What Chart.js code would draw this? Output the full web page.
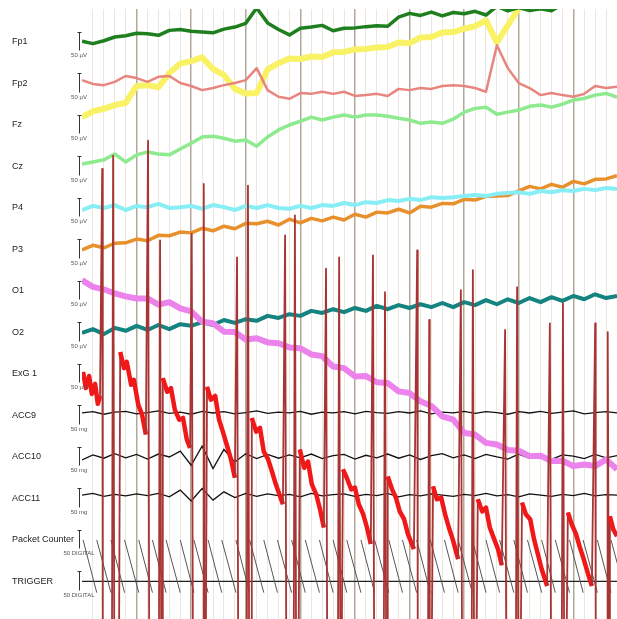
<!DOCTYPE html>
<html>
<head>
<meta charset="utf-8">
<script src="https://cdn.jsdelivr.net/npm/chart.js@4.4.1/dist/chart.umd.min.js"></script>
<style>
  html, body { margin: 0; padding: 0; background: #fff; }
  #wrap { width: 617px; height: 619px; }
</style>
</head>
<body>
<div id="wrap"><canvas id="eeg"></canvas></div>
<script>
// channel names + scale bar units
let channelNames = ["Fp1", "Fp2", "Fz", "Cz", "P4", "P3", "O1", "O2", "ExG 1", "ACC9", "ACC10", "ACC11", "Packet Counter", "TRIGGER"]
let scaleUnits = ["50 µV", "50 µV", "50 µV", "50 µV", "50 µV", "50 µV", "50 µV", "50 µV", "50 µV", "50 mg", "50 mg", "50 mg", "50 DIGITAL", "50 DIGITAL"]

// seconds
let eegTime = [0,0.2,0.4,0.6,0.8,1.0,1.2,1.4,1.6,1.8,2.0,2.2,2.4,2.6,2.8,3.0,3.2,3.4,3.6,3.8,4.0,4.2,4.4,4.6,4.8,5.0,5.2,5.4,5.6,5.8,6.0,6.2,6.4,6.6,6.8,7.0,7.2,7.4,7.6,7.8,8.0,8.2,8.4,8.6,8.8,9.0,9.2,9.4,9.6,9.8]

// µV
let fp1 = [2,-4,3,12,15,21,20,16,28,30,26,24,22,31,36,45,82,46,30,17,33,36,40,27,33,34,37,39,38,60,69,64,72,63,71,68,74,65,86,75,83,76,80,75,91,96,101,106,101,96]
let fp2 = [8,-1,-4,4,18,13,4,16,18,1,-6,-16,-11,-4,1,8,37,-16,-32,-37,-23,-25,-20,-25,-20,-30,-28,-25,-30,-13,-16,-11,-13,-6,-4,-6,-11,-20,92,37,1,-11,-28,-23,-28,-32,-25,-6,-11,-8]
let fz = [19,33,39,48,53,94,96,91,125,148,154,163,135,120,87,76,77,134,149,160,159,165,164,175,176,182,183,187,188,199,197,211,212,223,224,232,238,252,199,240,281,312,330,340,350,360,370,380,390,400]
let cz = [6,11,16,30,11,28,35,30,28,42,56,71,73,68,61,64,49,71,88,100,109,119,112,119,124,119,124,124,121,116,112,104,107,104,114,131,140,143,126,131,136,145,148,143,150,160,164,172,176,167]
let p4 = [-5,5,0,7,-5,5,2,10,0,2,5,-2,7,2,-5,5,0,7,0,-2,5,0,7,5,12,7,14,12,19,17,22,19,26,24,26,29,31,29,34,36,38,34,41,38,43,41,46,43,48,46]
let p3 = [-1,10,4,15,16,25,21,34,33,42,40,51,45,56,50,63,62,68,59,73,64,75,69,78,71,85,78,90,88,97,88,104,102,111,110,121,119,128,129,130,141,152,146,157,150,164,158,169,170,178]
let o1 = [26,10,4,-6,-13,-18,-18,-33,-27,-42,-49,-74,-78,-98,-99,-117,-114,-124,-126,-136,-138,-153,-157,-182,-186,-206,-205,-220,-222,-242,-246,-266,-277,-302,-310,-342,-346,-366,-370,-383,-385,-398,-397,-410,-409,-422,-418,-422,-406,-430]
let o2 = [-1,8,-4,11,4,16,6,18,8,20,16,25,18,30,23,32,28,40,35,44,40,52,47,56,49,59,52,64,56,66,59,68,61,71,61,73,66,78,68,80,71,83,73,85,76,88,80,92,83,88]

// ExG 1: decays + heartbeat spikes
let exgTime = [0.02,0.07,0.13,0.18,0.24,0.29,0.33,
  0.37,0.38,0.55,0.57,0.59,0.68,
  0.70,0.77,0.82,0.90,0.95,1.03,1.10,1.17,
  1.21,1.23,1.41,1.43,1.45,1.47,
  1.48,1.56,1.63,1.70,1.78,1.85,1.92,1.98,
  2.01,2.03,2.22,2.23,2.25,2.27,
  2.29,2.36,2.44,2.51,2.58,2.65,2.73,2.80,
  2.84,2.86,3.02,3.04,3.06,3.10,
  3.11,3.19,3.26,3.33,3.41,3.48,3.55,3.68,
  3.72,3.74,3.88,3.90,3.92,3.97,
  3.99,4.07,4.14,4.21,4.29,4.36,4.43,
  4.47,4.49,4.69,4.71,4.73,4.76,
  4.78,4.85,4.93,5.00,5.07,5.15,5.22,5.29,
  5.33,5.35,5.53,5.55,5.57,5.59,
  5.60,5.68,5.75,5.82,5.90,5.97,6.08,
  6.14,6.15,6.34,6.36,6.37,6.41,
  6.43,6.50,6.58,6.65,6.72,6.79,6.89,
  6.94,6.96,7.14,7.16,7.18,7.23,
  7.25,7.33,7.40,7.47,7.55,7.62,7.69,
  7.75,7.77,7.95,7.97,7.99,8.04,
  8.06,8.13,8.21,8.28,8.35,8.42,8.52,
  8.57,8.59,8.79,8.81,8.83,8.88,
  8.90,8.97,9.05,9.12,9.19,9.27,9.34,
  9.40,9.41,9.62,9.63,9.65,9.66,
  9.67,9.73,9.80]
let exgValue = [5,-34,-5,-48,-24,-72,-53,
  494,-602,-602,526,-602,-602,
  53,14,29,-26,-14,-74,-98,-146,
  562,-602,-602,322,-602,-602,
  -10,-43,-34,-86,-110,-106,-158,-178,
  338,-602,-602,458,-602,-602,
  -31,-62,-53,-110,-139,-170,-206,-250,
  281,-602,-602,454,-602,-602,
  -106,-139,-130,-187,-206,-235,-266,-314,
  334,-602,-602,382,-602,-602,
  -182,-226,-211,-266,-290,-326,-370,
  254,-602,-602,281,-602,-602,
  -230,-250,-278,-274,-314,-338,-370,-410,
  286,-602,-602,197,-602,-602,
  -247,-278,-298,-331,-350,-386,-422,
  298,-602,-602,130,-602,-602,
  -271,-302,-298,-338,-370,-398,-446,
  202,-602,-602,250,-602,-602,
  -302,-331,-322,-370,-398,-422,-461,
  106,-602,-602,209,-602,-602,
  -310,-338,-350,-398,-434,-470,-511,
  122,-602,-602,170,-602,-602,
  -334,-362,-386,-418,-446,-482,-511,
  122,-602,-602,101,-602,-602,
  -343,-374,-391]

// mg
let acc9 = [6,9,3,8,10,4,7,11,5,8,3,10,6,9,4,7,11,5,8,6,10,3,8,6,9,4,10,7,5,9,6,11,4,8,6,10,5,9,7,3,9,6,10,5,8,11,4,7,9,6]
let acc10 = [-7,5,-3,8,-2,6,-5,7,0,14,-20,26,-28,18,-12,8,-4,6,-3,5,-2,7,-4,3,6,-5,4,-2,7,-3,5,-6,3,8,-2,5,-4,6,0,-5,7,-3,4,-6,5,2,-4,6,-2,3]
let acc11 = [8,12,5,10,6,11,7,12,4,20,-6,24,-4,16,2,12,5,11,7,10,4,12,6,9,11,5,10,7,12,4,9,6,11,8,5,10,7,12,6,9,4,11,8,5,10,7,12,6,9,8]

// packet counter wraps (s), counts 127 -> 0
let packetTops = [0.02,0.27,0.53,0.78,1.04,1.29,1.54,1.80,2.05,2.31,2.56,2.82,3.07,3.33,3.58,3.84,4.09,4.35,4.60,4.85,5.11,5.36,5.62,5.87,6.13,6.38,6.64,6.89,7.15,7.40,7.65,7.91,8.16,8.42,8.67,8.93,9.18,9.44,9.69,9.95]
let packetMax = 127
let packetMin = 0

let triggerTime = [0, 9.8]
let triggerValue = [0, 0]

// layout: each channel gets 100 units of the y axis
function base(i){
    return 79.5 + 100 * i
}
function pts(times, values, i){
    return times.map((t, k) => ({x: t, y: base(i) - values[k]}))
}

let eegSeries = [fp1, fp2, fz, cz, p4, p3, o1, o2]
let eegColors = ['#1f7f1f', '#e8857f', '#f8f264', '#8eea8e', '#86eef4', '#e8902c', '#ec82ec', '#15837f']
let eegWidths = [3.5, 2.5, 6, 3.5, 4, 3.5, 6, 4]

let datasets = eegSeries.map((s, i) => ({
    label: channelNames[i],
    data: pts(eegTime, s, i),
    borderColor: eegColors[i],
    borderWidth: eegWidths[i],
    borderJoinStyle: 'round'
}))

datasets.push({
    label: 'ExG 1',
    data: pts(exgTime, exgValue, 8),
    borderColor: '#f01818',
    borderWidth: 4.5,
    borderJoinStyle: 'round',
    order: -1,
    segment: {
        borderColor: c => Math.abs(c.p1.parsed.y - c.p0.parsed.y) > 150 ? '#a83434' : '#f01818',
        borderWidth: c => Math.abs(c.p1.parsed.y - c.p0.parsed.y) > 150 ? 1.8 : 4.5
    }
})

;[acc9, acc10, acc11].forEach((s, k) => {
    datasets.push({
        label: channelNames[9 + k],
        data: pts(eegTime, s, 9 + k),
        borderColor: '#111',
        borderWidth: 1.3
    })
})

// sawtooth from the wrap times: falls from max to min, jumps back up
let pktData = []
for (let k = 0; k < packetTops.length - 1; k++) {
    pktData.push({x: packetTops[k], y: base(12) - (packetMax - packetMax)})
    pktData.push({x: packetTops[k + 1], y: base(12) - (packetMin - packetMax)})
}
datasets.push({
    label: 'Packet Counter',
    data: pktData,
    borderColor: '#555',
    borderWidth: 1,
    segment: {
        borderColor: c => c.p1.parsed.y < c.p0.parsed.y ? 'rgba(0,0,0,0)' : '#555'
    }
})

datasets.push({
    label: 'TRIGGER',
    data: pts(triggerTime, triggerValue, 13),
    borderColor: '#222',
    borderWidth: 1.2
})

const scaleBars = {
    id: 'scaleBars',
    afterDraw(chart){
        let ctx = chart.ctx
        let y = chart.scales.y
        let x = chart.chartArea.left - 3
        ctx.save()
        ctx.strokeStyle = '#333'
        ctx.lineWidth = 1
        ctx.fillStyle = '#555'
        ctx.font = '6px "Liberation Sans", Arial, sans-serif'
        ctx.textAlign = 'center'
        channelNames.forEach((n, i) => {
            let top = Math.round(y.getPixelForValue(base(i) - 25)) + 0.5
            let bot = Math.round(y.getPixelForValue(base(i) + 20)) + 0.5
            ctx.beginPath()
            ctx.moveTo(x + 0.5, top); ctx.lineTo(x + 0.5, bot)
            ctx.moveTo(x - 1.5, top); ctx.lineTo(x + 2.5, top)
            ctx.stroke()
            ctx.fillText(scaleUnits[i], x, bot + 6)
        })
        ctx.restore()
    }
}

new Chart(document.getElementById('eeg'), {
    type: 'line',
    data: { datasets: datasets },
    options: {
        responsive: true,
        maintainAspectRatio: false,
        animation: false,
        layout: { padding: { left: 12, top: 9, right: 0, bottom: 0 } },
        elements: { point: { radius: 0 }, line: { tension: 0 } },
        plugins: { legend: { display: false }, tooltip: { enabled: false } },
        scales: {
            x: {
                type: 'linear',
                min: 0,
                max: 9.8,
                afterBuildTicks: s => {
                    let t = []
                    for (let k = 0; k <= 49; k++) t.push({value: k * 0.2})
                    s.ticks = t
                },
                afterFit: s => { s.height = 0; s.paddingLeft = 0; s.paddingRight = 0 },
                ticks: { display: false },
                border: { display: false },
                grid: {
                    drawTicks: false,
                    color: c => {
                        let k = Math.round(c.tick.value / 0.2)
                        if (k === 0) return 'rgba(0,0,0,0)'
                        return k % 5 === 0 ? '#b3a898' : '#ebe7de'
                    },
                    lineWidth: c => Math.round(c.tick.value / 0.2) % 5 === 0 ? 1.5 : 1
                }
            },
            y: {
                type: 'linear',
                reverse: true,
                min: 0,
                max: 1470,
                afterBuildTicks: s => { s.ticks = channelNames.map((n, i) => ({value: base(i)})) },
                afterFit: s => { s.width = 70; s.paddingTop = 0; s.paddingBottom = 0 },
                grid: { display: false },
                border: { display: false },
                ticks: {
                    autoSkip: false,
                    crossAlign: 'far',
                    padding: 0,
                    color: '#222',
                    font: { family: '"Liberation Sans", Arial, sans-serif', size: 9 },
                    callback: (v, i) => channelNames[i]
                }
            }
        }
    },
    plugins: [scaleBars]
})
</script>
</body>
</html>
